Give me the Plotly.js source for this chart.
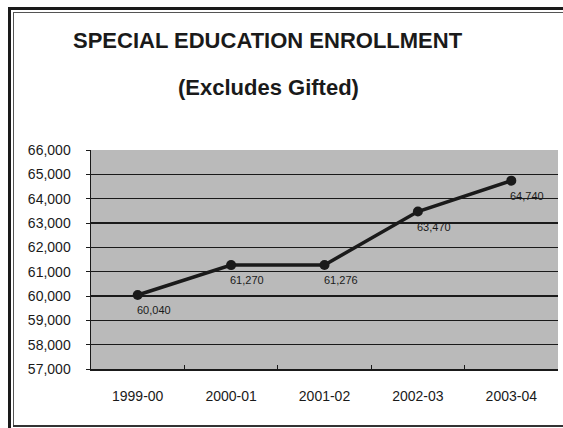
<!DOCTYPE html>
<html>
<head>
<meta charset="utf-8">
<script src="https://cdn.plot.ly/plotly-3.0.1.min.js"></script>
<style>
  html, body { margin: 0; padding: 0; background: #fff; }
  #wrap { position: relative; width: 563px; height: 428px; overflow: hidden; }
  #chart { position: absolute; left: 0; top: 0; width: 563px; height: 428px; }
  .fr { position: absolute; pointer-events: none; }
</style>
</head>
<body>
<div id="wrap">
  <div id="chart"></div>
  <div class="fr" style="left:8px; top:7px; width:560px; height:3px; background:#1a1a1a;"></div>
  <div class="fr" style="left:8px; top:7px; width:3px; height:421px; background:#1a1a1a;"></div>
  <div class="fr" style="left:13px; top:12px; width:555px; height:1px; background:#555;"></div>
  <div class="fr" style="left:13px; top:12px; width:1px; height:414px; background:#555;"></div>
  <div class="fr" style="left:13px; top:425px; width:555px; height:2px; background:#333;"></div>
</div>
<script>
// Data
const years = ["1999-00", "2000-01", "2001-02", "2002-03", "2003-04"];
const enrollment = [60040, 61270, 61276, 63470, 64740];
const valueLabels = ["60,040", "61,270", "61,276", "63,470", "64,740"];
const yTickVals = [57000, 58000, 59000, 60000, 61000, 62000, 63000, 64000, 65000, 66000];
const yTickText = ["57,000", "58,000", "59,000", "60,000", "61,000", "62,000", "63,000", "64,000", "65,000", "66,000"];

const font = "Liberation Sans, Arial, sans-serif";

const trace = {
  x: years,
  y: enrollment,
  type: "scatter",
  mode: "lines+markers",
  line: { color: "#1a1a1a", width: 3.5 },
  marker: { color: "#1a1a1a", size: 10 },
  hoverinfo: "x+y",
  showlegend: false
};

const annotations = years.map((yr, i) => ({
  x: yr, y: enrollment[i], xref: "x", yref: "y",
  text: valueLabels[i], showarrow: false,
  xanchor: "left", yanchor: "top",
  xshift: -3, yshift: -7,
  font: { family: font, size: 11, color: "#1a1a1a" }
}));

annotations.push({
  xref: "paper", yref: "paper", x: 0.38, y: 1, yshift: 110,
  xanchor: "center", yanchor: "middle", showarrow: false,
  text: "<b>SPECIAL EDUCATION ENROLLMENT</b>",
  font: { family: font, size: 22, color: "#1a1a1a" }
});
annotations.push({
  xref: "paper", yref: "paper", x: 0.38, y: 1, yshift: 63,
  xanchor: "center", yanchor: "middle", showarrow: false,
  text: "<b>(Excludes Gifted)</b>",
  font: { family: font, size: 22, color: "#1a1a1a" }
});

const layout = {
  width: 563, height: 428,
  margin: { l: 91, r: 5, t: 150, b: 59 },
  paper_bgcolor: "#ffffff",
  plot_bgcolor: "#bababa",
  font: { family: font, size: 14, color: "#1a1a1a" },
  xaxis: {
    type: "category",
    range: [-0.5, 4.5],
    showgrid: false,
    zeroline: false,
    showline: true, linecolor: "#1a1a1a", linewidth: 1.5, mirror: false,
    ticks: "inside", tickson: "boundaries", ticklen: 4, tickcolor: "#1a1a1a",
    ticklabelstandoff: 14,
    tickfont: { family: font, size: 14, color: "#1a1a1a" }
  },
  yaxis: {
    range: [57000, 66000],
    tickvals: yTickVals,
    ticktext: yTickText,
    showgrid: true, gridcolor: "#1a1a1a", gridwidth: 1.3,
    zeroline: false,
    showline: true, linecolor: "#1a1a1a", linewidth: 1.5,
    ticks: "outside", ticklen: 4, tickcolor: "#1a1a1a",
    ticklabelstandoff: 12,
    tickfont: { family: font, size: 14, color: "#1a1a1a" }
  },
  annotations: annotations
};

Plotly.newPlot("chart", [trace], layout, { displayModeBar: false, staticPlot: true });
</script>
</body>
</html>
